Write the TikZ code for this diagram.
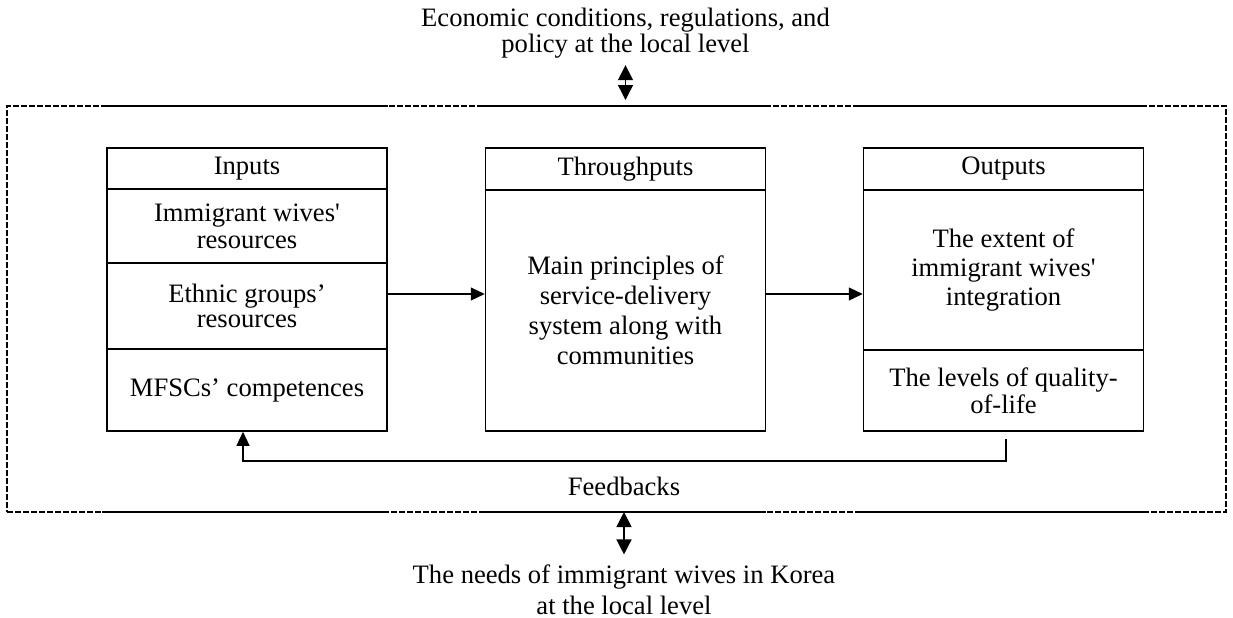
\documentclass[tikz,border=0pt]{standalone}
\usepackage{fontspec}
\setmainfont{Liberation Serif}
\usetikzlibrary{arrows.meta}

\begin{document}
\begin{tikzpicture}[x=0.5pt,y=-0.5pt,
  font=\fontsize{13.3pt}{14pt}\selectfont,
  cell/.style={draw,line width=0.75pt,inner sep=0pt,minimum width=140pt,align=center},
  flow/.style={line width=0.6pt,-{Triangle[length=7pt,width=6.5pt]}},
  both/.style={line width=0.7pt,{Triangle[length=7.5pt,width=7.5pt]}-{Triangle[length=7.5pt,width=7.5pt]}},
  frameline/.style={line width=1pt,dash pattern=on 3pt off 1pt},
  solidseg/.style={line width=1.1pt},
]
\useasboundingbox (0,0) rectangle (1233,617);

% surrounding system boundary
\node[frameline,draw,inner sep=0pt,outer sep=0pt,minimum width=609.5pt,minimum height=203pt] (frame) at (616.5,309) {};

% Inputs column
\node[cell,minimum height=20.5pt] (inHead) at (247,168.5) {Inputs};
\node[cell,minimum height=37pt,font={\fontsize{13.3pt}{13.5pt}\selectfont}] (wives) at (247,226) {Immigrant wives\textquotesingle\\resources};
\node[cell,minimum height=43pt,font={\fontsize{13.3pt}{12.5pt}\selectfont}] (ethnic) at (247,306) {Ethnic groups’\\resources};
\node[cell,minimum height=41pt] (mfsc) at (247,390) {MFSCs’ competences};

% Throughputs column
\node[cell,minimum height=21pt] (tpHead) at (625.5,169) {Throughputs};
\node[cell,minimum height=120.5pt,font={\fontsize{13.3pt}{15pt}\selectfont}] (tpBody) at (625.5,310.5) {Main principles of\\service-delivery\\system along with\\communities};

% Outputs column
\node[cell,minimum height=21pt] (outHead) at (1003.5,169) {Outputs};
\node[cell,minimum height=80pt,font={\fontsize{13.3pt}{14.5pt}\selectfont}] (outExt) at (1003.5,270) {The extent of\\immigrant wives\textquotesingle\\integration};
\node[cell,minimum height=40.5pt,font={\fontsize{13.3pt}{13.5pt}\selectfont}] (outQual) at (1003.5,390.5) {The levels of quality-\\of-life};

% solid stretches of the boundary above and below each column
\foreach \c in {inHead,tpHead,outHead}{
  \draw[solidseg] ([xshift=-2pt]frame.north -| \c.west) -- (frame.north -| \c.east);
  \draw[solidseg] ([xshift=-2pt]frame.south -| \c.west) -- (frame.south -| \c.east);
}

% environment labels
\node[align=center,font={\fontsize{13.3pt}{13pt}\selectfont}] (title) at (625.5,33) {Economic conditions, regulations, and\\policy at the local level};
\node[align=center,font={\fontsize{13.3pt}{15.5pt}\selectfont}] (needs) at (624,589.5) {The needs of immigrant wives in Korea\\at the local level};

\draw[both] (title.south) -- ([yshift=3pt]title.south |- frame.north);
\draw[both] (frame.south -| needs.north) -- ([yshift=1.5pt]needs.north);

% main flow
\coordinate (flowY) at (0,294);
\draw[flow] (ethnic.east |- flowY) -- (tpBody.west |- flowY);
\draw[flow] (tpBody.east |- flowY) -- (outExt.west |- flowY);

% feedback loop
\coordinate (fbStart) at (1006,439);
\coordinate (fbLow) at (625,461);
\draw[flow] (fbStart) |- (fbLow) -| ([xshift=-2pt]mfsc.south);
\node[anchor=base] (fb) at (624,495) {Feedbacks};
\end{tikzpicture}
\end{document}
